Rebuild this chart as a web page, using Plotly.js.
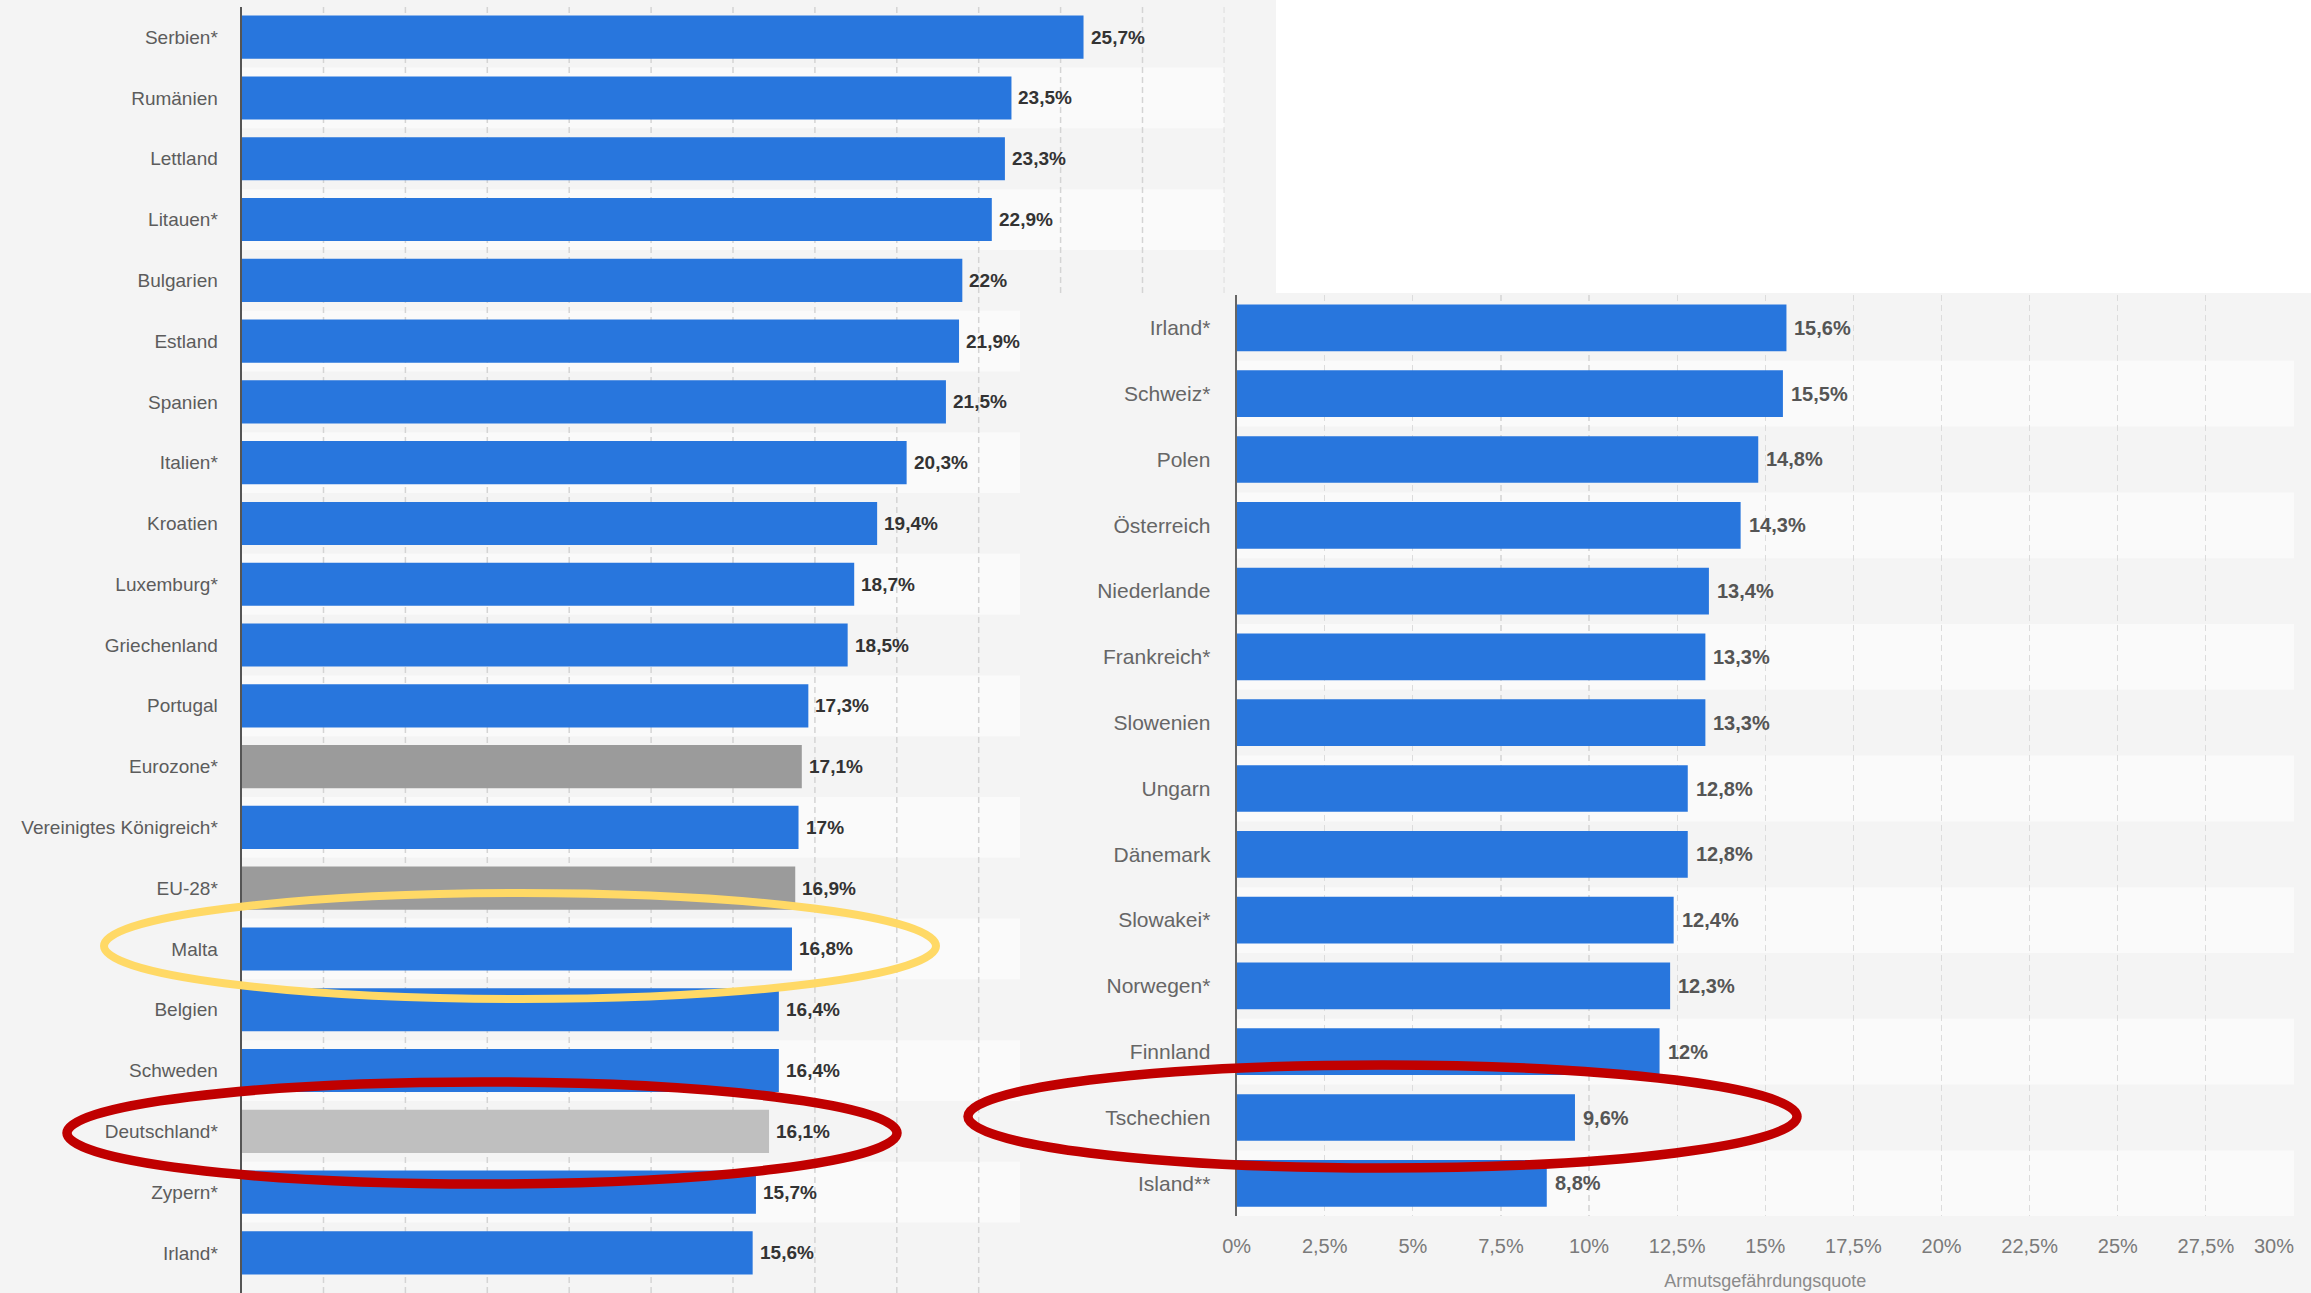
<!DOCTYPE html>
<html>
<head>
<meta charset="utf-8">
<script src="https://cdn.plot.ly/plotly-3.0.1.min.js"></script>
<style>
  html, body { margin: 0; padding: 0; background: #f4f4f4; }
  #chart { width: 2311px; height: 1293px; }
</style>
</head>
<body>
<div id="chart"></div>
<script>
// ---------------- DATA ----------------
const leftCountries = [
  "Serbien*", "Rumänien", "Lettland", "Litauen*", "Bulgarien", "Estland", "Spanien",
  "Italien*", "Kroatien", "Luxemburg*", "Griechenland", "Portugal", "Eurozone*",
  "Vereinigtes Königreich*", "EU-28*", "Malta", "Belgien", "Schweden", "Deutschland*",
  "Zypern*", "Irland*"
];
const leftValues = [
  25.7, 23.5, 23.3, 22.9, 22, 21.9, 21.5,
  20.3, 19.4, 18.7, 18.5, 17.3, 17.1,
  17, 16.9, 16.8, 16.4, 16.4, 16.1,
  15.7, 15.6
];
const rightCountries = [
  "Irland*", "Schweiz*", "Polen", "Österreich", "Niederlande", "Frankreich*", "Slowenien",
  "Ungarn", "Dänemark", "Slowakei*", "Norwegen*", "Finnland", "Tschechien", "Island**"
];
const rightValues = [
  15.6, 15.5, 14.8, 14.3, 13.4, 13.3, 13.3,
  12.8, 12.8, 12.4, 12.3, 12, 9.6, 8.8
];
const xTickValues = [0, 2.5, 5, 7.5, 10, 12.5, 15, 17.5, 20, 22.5, 25, 27.5, 30];
const xTickLabels = ["0%", "2,5%", "5%", "7,5%", "10%", "12,5%", "15%", "17,5%", "20%", "22,5%", "25%", "27,5%", "30%"];
const aggregateCategories = ["Eurozone*", "EU-28*"];
const germanyCategories = ["Deutschland*"];
const xAxisTitle = "Armutsgefährdungsquote";

// ---------------- STYLE / LAYOUT ----------------
const W = 2311, H = 1293;
const FONT = "Liberation Sans, Arial, Helvetica, sans-serif";
const BLUE = "#2876dd", AGG_GREY = "#9b9b9b", DE_GREY = "#bfbfbf";
const STRIPE = "#fafafa", BG = "#f4f4f4";
const X = px => px / W;
const Y = py => 1 - py / H;
const fmt = v => String(v).replace(".", ",") + "%";

const L = { axisPx: 241.6, endPx: 1224.4, topPx: 6.8, bottomPx: 1293, yMax: 20.66 };
const R = { axisPx: 1236.6, endPx: 2294, topPx: 295, bottomPx: 1216.2, tickLabelPx: 1246 };
const overlay = { left: 1020, top: 293 };     // second screenshot region
const whiteArea = { left: 1276, bottom: 293 };
const XMAX = 30;

const leftColors = leftCountries.map(c =>
  aggregateCategories.includes(c) ? AGG_GREY : (germanyCategories.includes(c) ? DE_GREY : BLUE));

const traces = [
  { type: "bar", orientation: "h", x: leftValues, y: leftCountries, xaxis: "x", yaxis: "y",
    marker: { color: leftColors }, hoverinfo: "none" },
  { type: "bar", orientation: "h", x: rightValues, y: rightCountries, xaxis: "x2", yaxis: "y2",
    marker: { color: BLUE }, hoverinfo: "none" }
];

const shapes = [];
// white area top right
shapes.push({ type: "rect", xref: "paper", yref: "paper", x0: X(whiteArea.left), x1: 1,
  y0: Y(whiteArea.bottom), y1: 1, fillcolor: "#ffffff", line: { width: 0 }, layer: "below" });

// left stripes
const leftPitch = (L.bottomPx - L.topPx) / (L.yMax + 0.5);
leftCountries.forEach((c, i) => {
  if (i % 2 === 1) {
    const rowBottom = L.topPx + (i + 1) * leftPitch;
    const xEnd = rowBottom <= overlay.top ? L.endPx : overlay.left;
    shapes.push({ type: "rect", xref: "paper", yref: "y", x0: X(L.axisPx), x1: X(xEnd),
      y0: i - 0.5, y1: i + 0.5, fillcolor: STRIPE, line: { width: 0 }, layer: "below" });
  }
});
// left gridlines (cut where the second screenshot covers them)
xTickValues.forEach(t => {
  if (t === 0) return;
  const px = L.axisPx + t / XMAX * (L.endPx - L.axisPx);
  shapes.push({ type: "line", xref: "x", yref: "paper", x0: t, x1: t,
    y0: px > overlay.left ? Y(overlay.top) : 0, y1: Y(L.topPx),
    line: { color: "#d4d4d4", width: 1.5, dash: "6px,4px" }, layer: "below" });
});
// right stripes
rightCountries.forEach((c, i) => {
  if (i % 2 === 1) {
    shapes.push({ type: "rect", xref: "x2", yref: "y2", x0: 0, x1: XMAX,
      y0: i - 0.5, y1: i + 0.5, fillcolor: STRIPE, line: { width: 0 }, layer: "below" });
  }
});
// highlight ellipses
const ellipse = (x0, x1, y0, y1, color, w) => ({ type: "circle", xref: "paper", yref: "paper",
  x0: X(x0), x1: X(x1), y0: Y(y1), y1: Y(y0), line: { color: color, width: w },
  fillcolor: "rgba(0,0,0,0)", layer: "above" });
shapes.push(ellipse(104, 936, 893, 999, "#ffd966", 8));
shapes.push(ellipse(67, 897, 1082, 1184, "#c00000", 9.5));
shapes.push(ellipse(968, 1797, 1065, 1168, "#c00000", 9.5));

const annotations = [];
leftCountries.forEach((c, i) => annotations.push({
  xref: "x", yref: "y", x: leftValues[i], y: c, text: fmt(leftValues[i]),
  xanchor: "left", yanchor: "middle", xshift: 5, showarrow: false,
  font: { family: FONT, size: 19, color: "#333333", weight: 700 } }));
rightCountries.forEach((c, i) => annotations.push({
  xref: "x2", yref: "y2", x: rightValues[i], y: c, text: fmt(rightValues[i]),
  xanchor: "left", yanchor: "middle", xshift: 6, showarrow: false,
  font: { family: FONT, size: 20, color: "#555555", weight: 700 } }));

// the last x tick label sits flush against the right edge (as in the screenshot)
const lastTick = xTickValues.length - 1;
const shownTickText = xTickLabels.map((t, i) => i === lastTick ? "" : t);
annotations.push({
  xref: "x2", yref: "paper", x: xTickValues[lastTick], y: Y(R.tickLabelPx),
  text: xTickLabels[lastTick], xanchor: "right", yanchor: "middle", xshift: 2, showarrow: false,
  font: { family: FONT, size: 20, color: "#7a7a7a" } });

const layout = {
  width: W, height: H,
  margin: { l: 0, r: 0, t: 0, b: 0, pad: 0 },
  paper_bgcolor: BG, plot_bgcolor: "rgba(0,0,0,0)",
  showlegend: false, bargap: 0.29,
  font: { family: FONT },
  xaxis: { domain: [X(L.axisPx), X(L.endPx)], range: [0, XMAX], anchor: "y",
    showgrid: false, zeroline: false, showticklabels: false, ticks: "", showline: false,
    automargin: false, fixedrange: true },
  yaxis: { domain: [Y(L.bottomPx), Y(L.topPx)], type: "category", range: [L.yMax, -0.5], anchor: "x",
    showgrid: false, zeroline: false, showline: true, linecolor: "#555555", linewidth: 2,
    ticks: "", ticklabelstandoff: 18, tickfont: { family: FONT, size: 19, color: "#5c5c5c" },
    automargin: false, fixedrange: true },
  xaxis2: { domain: [X(R.axisPx), X(R.endPx)], range: [0, XMAX], anchor: "y2",
    tickmode: "array", tickvals: xTickValues, ticktext: shownTickText,
    tickfont: { family: FONT, size: 20, color: "#7a7a7a" }, ticks: "", ticklabelstandoff: 16,
    showgrid: true, gridcolor: "#dcdcdc", griddash: "6px,4px", gridwidth: 1.2,
    zeroline: false, showline: false, automargin: false, fixedrange: true,
    title: { text: xAxisTitle, font: { family: FONT, size: 18, color: "#8a8a8a" }, standoff: 18 } },
  yaxis2: { domain: [Y(R.bottomPx), Y(R.topPx)], type: "category", range: [13.5, -0.5], anchor: "x2",
    showgrid: false, zeroline: false, showline: true, linecolor: "#666666", linewidth: 2,
    ticks: "", ticklabelstandoff: 20, tickfont: { family: FONT, size: 21, color: "#666666" },
    automargin: false, fixedrange: true },
  shapes: shapes,
  annotations: annotations
};

Plotly.newPlot("chart", traces, layout, { staticPlot: true, displayModeBar: false });
</script>
</body>
</html>
